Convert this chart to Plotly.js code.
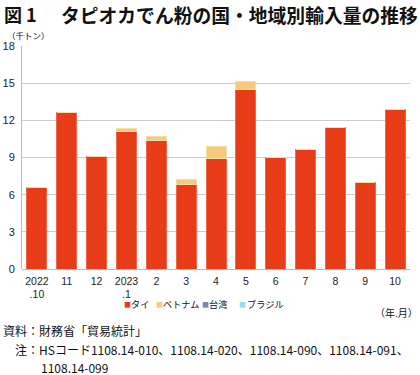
<!DOCTYPE html>
<html><head><meta charset="utf-8">
<script src="https://cdn.plot.ly/plotly-3.0.1.min.js"></script>
<style>body{margin:0;background:#fff}#c{width:420px;height:375px}</style>
</head><body><div id="c"></div>
<script>
const categories = ["2022.10","2022.11","2022.12","2023.1","2023.2","2023.3","2023.4","2023.5","2023.6","2023.7","2023.8","2023.9","2023.10"];
const tickLabels = ["2022<br>.10","11","12","2023<br>.1","2","3","4","5","6","7","8","9","10"];
const seriesNames = ["タイ","ベトナム","台湾","ブラジル"];
const thai    = [6.56,12.64,9.06,11.07,10.40,6.83,8.93,14.49,8.98,9.62,11.43,6.96,12.90];
const vietnam = [0,0,0,0.24,0.27,0.43,0.99,0.61,0,0,0,0,0];
const taiwan  = [0,0,0,0,0,0,0,0,0,0,0,0,0];
const brazil  = [0,0,0,0,0,0,0,0,0,0,0,0,0];

const F = "Liberation Sans, Arial, Noto Sans CJK JP";
const J = "Noto Sans CJK JP";
const colors = ['#E83C18','#F5CB80','#3A3AA0','#44BBDD'];
const legColors = ['#E83C18','#F5CB80','#8080C8','#9ADCEC'];
const traces = [
  {type:'bar', name:seriesNames[0], x:categories, y:thai, marker:{color:colors[0], line:{color:'#F06A4A', width:1}}},
  {type:'bar', name:seriesNames[1], x:categories, y:vietnam, marker:{color:colors[1], line:{color:'#F8DCA8', width:1}}},
  {type:'bar', name:seriesNames[2], x:categories, y:taiwan, marker:{color:'#ffffff', pattern:{shape:'.', fgcolor:colors[2], size:4, solidity:0.4}, line:{width:0}}},
  {type:'bar', name:seriesNames[3], x:categories, y:brazil, marker:{color:'#ffffff', pattern:{shape:'.', fgcolor:colors[3], size:4, solidity:0.4}, line:{width:0}}}
];
const layout = {
  width:420, height:375,
  margin:{l:22, r:10, t:46, b:106},
  barmode:'stack', bargap:0.33,
  paper_bgcolor:'#fff', plot_bgcolor:'#fff',
  font:{family:F, size:11, color:'#222'},
  showlegend:false,
  xaxis:{type:'category', tickvals:categories, ticktext:tickLabels, tickfont:{family:F, size:10.5}, showline:false, ticks:'', showgrid:false, zeroline:false, ticklabelstandoff:4},
  yaxis:{range:[0,18], tickvals:[0,3,6,9,12,15,18], tickfont:{family:F, size:11}, gridcolor:'#cccccc', gridwidth:1, showline:true, linecolor:'#bbbbbb', linewidth:1, ticks:'', zeroline:true, zerolinecolor:'#bbbbbb', ticklabelstandoff:4},
  annotations:[]
};
const page = [
  {x:3, y:14, text:'<b>図 1</b>', size:18, a:'left'},
  {x:60, y:14, text:'<b>タピオカでん粉の国・地域別輸入量の推移</b>', size:18.8, a:'left'},
  {x:6, y:35, text:'（千トン）', size:8.5, a:'left'},
  {x:419, y:312, text:'（年.月）', size:10, a:'right'},
  {x:2, y:330, text:'資料：財務省「貿易統計」', size:12, a:'left'},
  {x:14, y:349, text:'注：HSコード1108.14-010、1108.14-020、1108.14-090、1108.14-091、', size:12, a:'left'},
  {x:40, y:367, text:'1108.14-099', size:12, a:'left'}
];
// legend drawn as text entries: marker glyph + name
const legMarkX = [123, 155, 201, 238];
const legTextX = [130, 162, 208, 246];
seriesNames.forEach((n,i) => {
  page.push({x:legMarkX[i], y:304, text:'■', size:7, a:'left', c:legColors[i]});
  page.push({x:legTextX[i], y:304, text:n, size:9.2, a:'left'});
});
page.forEach(p => layout.annotations.push({xref:'paper', yref:'paper',
  x:(p.x-22)/388, y:(269-p.y)/223, xanchor:p.a, yanchor:'middle', showarrow:false,
  text:p.text, borderpad:0, font:{family:J, size:p.size, color:p.c||'#111'}}));
Plotly.newPlot('c', traces, layout, {displayModeBar:false, staticPlot:true});
</script></body></html>
